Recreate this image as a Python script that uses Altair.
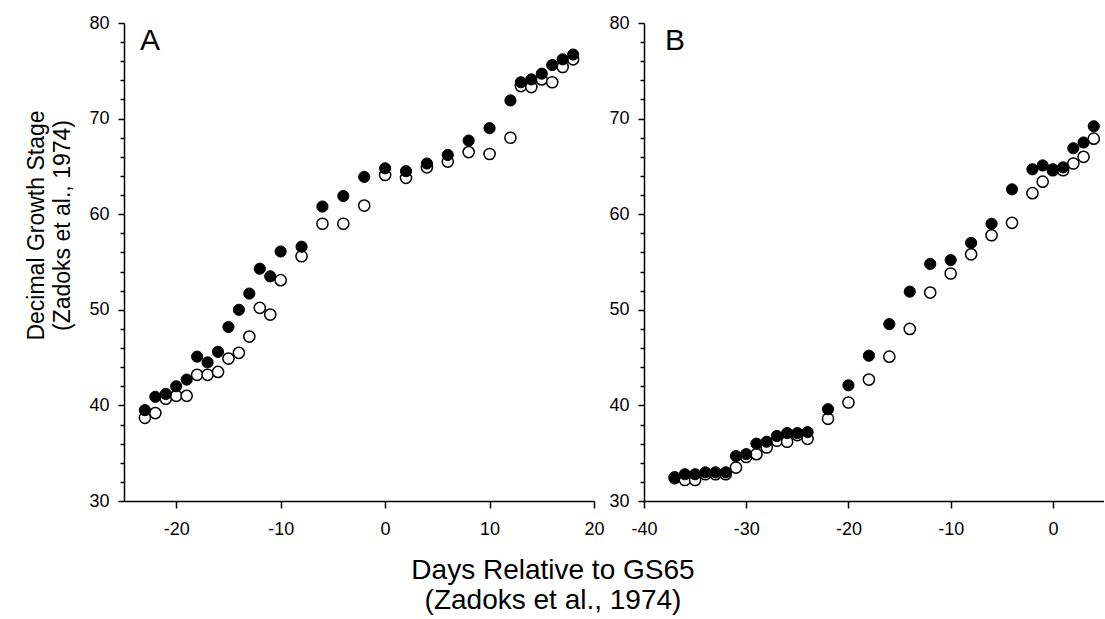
import altair as alt
import pandas as pd

# Panel A
a_days = [-23, -22, -21, -20, -19, -18, -17, -16, -15, -14, -13, -12, -11, -10, -8, -6,
          -4, -2, 0, 2, 4, 6, 8, 10, 12, 13, 14, 15, 16, 17, 18]
a_filled = [39.5, 40.9, 41.2, 42.0, 42.7, 45.1, 44.5, 45.6, 48.2, 50.0, 51.7, 54.3, 53.5, 56.1, 56.6, 60.8,
            61.9, 63.9, 64.8, 64.5, 65.3, 66.2, 67.7, 69.0, 71.9, 73.8, 74.1, 74.7, 75.6, 76.2, 76.7]
a_open = [38.7, 39.2, 40.7, 41.0, 41.0, 43.2, 43.2, 43.5, 44.9, 45.5, 47.2, 50.2, 49.5, 53.1, 55.6, 59.0,
          59.0, 60.9, 64.1, 63.8, 64.9, 65.5, 66.5, 66.3, 68.0, 73.4, 73.3, 74.1, 73.8, 75.4, 76.2]

# Panel B
b_days = [-37, -36, -35, -34, -33, -32, -31, -30, -29, -28, -27, -26, -25, -24, -22, -20,
          -18, -16, -14, -12, -10, -8, -6, -4, -2, -1, 0, 1, 2, 3, 4]
b_filled = [32.5, 32.8, 32.8, 33.0, 33.0, 33.0, 34.7, 34.9, 36.0, 36.2, 36.8, 37.1, 37.1, 37.2, 39.6, 42.1,
            45.2, 48.5, 51.9, 54.8, 55.2, 57.0, 59.0, 62.6, 64.7, 65.1, 64.7, 64.9, 66.9, 67.5, 69.2]
b_open = [32.4, 32.2, 32.2, 32.8, 32.8, 32.8, 33.5, 34.6, 34.9, 35.6, 36.3, 36.2, 36.9, 36.5, 38.6, 40.3,
          42.7, 45.1, 48.0, 51.8, 53.8, 55.8, 57.8, 59.1, 62.2, 63.4, 64.6, 64.6, 65.3, 66.0, 67.9]

a_xticks = [-20, -10, 0, 10, 20]
b_xticks = [-40, -30, -20, -10, 0]
y_ticks = list(range(30, 81, 2))

FONT = "Liberation Sans"


def panel(days, filled, opn, xdom, xticks, label, label_x, ytitle, width):
    n = len(days)
    df = pd.DataFrame({"day": days + days, "gs": opn + filled,
                       "kind": ["open"] * n + ["filled"] * n})
    x = alt.X("day:Q", scale=alt.Scale(domain=xdom, nice=False, zero=False),
              axis=alt.Axis(values=xticks, title=None, grid=False, labelFontSize=18,
                            labelFont=FONT, labelColor="black", domainColor="black",
                            tickColor="black", tickSize=7, domainWidth=1.5, tickWidth=1.5,
                            labelPadding=12, labelFlush=False, labelOverlap=False,
                            labelExpr="'' + datum.value"))
    yaxis = dict(values=y_ticks, grid=False, labelFontSize=18, labelFont=FONT,
                 labelColor="black", domainColor="black", tickColor="black",
                 domainWidth=1.5, tickWidth=1.5, labelPadding=9, labelOverlap=False,
                 labelExpr="datum.value % 10 === 0 ? '' + datum.value : ''",
                 tickSize={"condition": {"test": "datum.value % 10 === 0", "value": 6}, "value": 4})
    if ytitle:
        yaxis.update(title=["Decimal Growth Stage", "(Zadoks et al., 1974)"],
                     titleFontSize=23, titleFont=FONT, titleFontWeight="normal",
                     titleColor="black", titlePadding=14, titleY=202, titleLineHeight=26)
    else:
        yaxis.update(title=None)
    y = alt.Y("gs:Q", scale=alt.Scale(domain=[30, 80], nice=False, zero=False),
              axis=alt.Axis(**yaxis))
    base = alt.Chart(df).encode(x=x, y=y)
    opn_layer = base.transform_filter("datum.kind === 'open'").mark_point(
        shape="circle", filled=True, fill="white", stroke="black",
        strokeWidth=1.5, size=125, opacity=1)
    fil_layer = base.transform_filter("datum.kind === 'filled'").mark_point(
        shape="circle", filled=True, fill="black", stroke="black",
        strokeWidth=1, size=125, opacity=1)
    lab = alt.Chart(pd.DataFrame({"t": [label]})).mark_text(
        align="left", baseline="alphabetic", fontSize=30, font=FONT, color="black").encode(
        text="t:N", x=alt.value(label_x), y=alt.value(27))
    return alt.layer(opn_layer, fil_layer, lab).properties(width=width, height=478)


pa = panel(a_days, a_filled, a_open, [-25, 20], a_xticks, "A", 16, True, 470)
pb = panel(b_days, b_filled, b_open, [-40, 5], b_xticks, "B", 21, False, 460)

chart = alt.hconcat(pa, pb, spacing=3).properties(
    padding={"left": 25, "top": 14, "right": 0, "bottom": 0},
    background="white",
    title=alt.TitleParams(text=["Days Relative to GS65", "(Zadoks et al., 1974)"],
                          orient="bottom", anchor="middle", fontSize=28, font=FONT,
                          fontWeight="normal", color="black", offset=19, lineHeight=30,
                          dx=-12)
).configure_view(strokeWidth=0, stroke=None)

chart.save("out.html", embed_options={"renderer": "svg", "actions": False})
